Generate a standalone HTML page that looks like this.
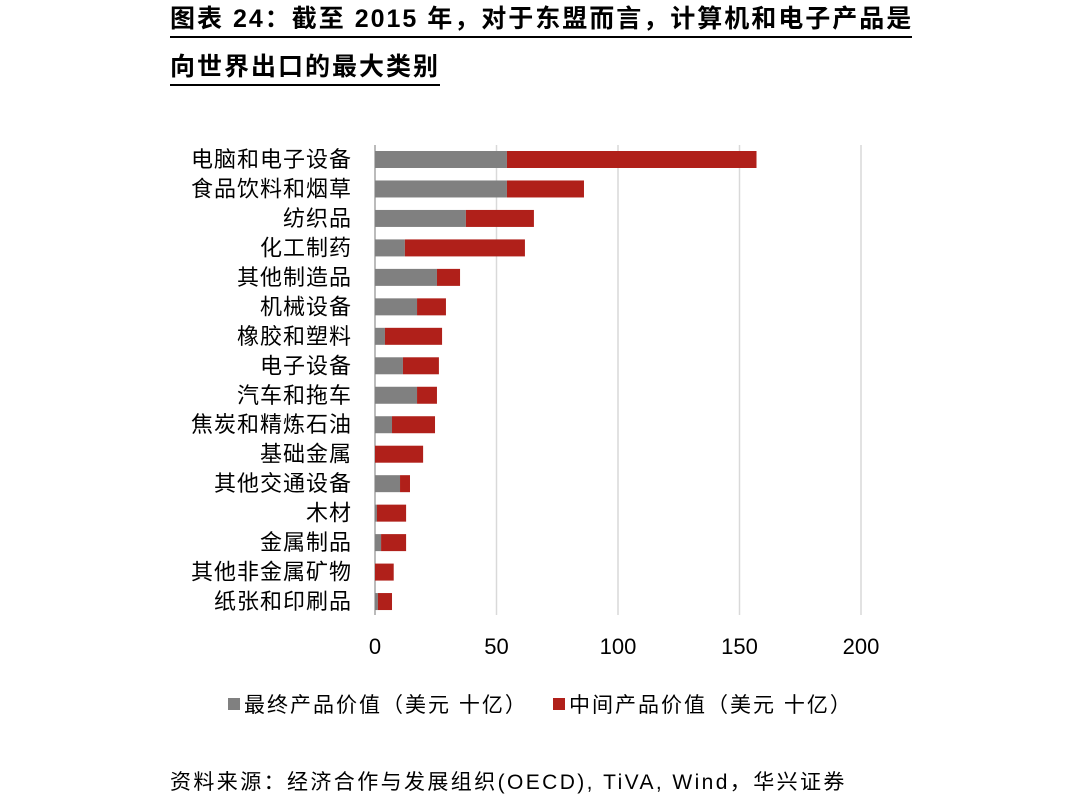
<!DOCTYPE html>
<html><head><meta charset="utf-8"><style>
body{margin:0;width:1080px;height:800px;background:#fff;font-family:"Liberation Sans","Noto Sans CJK SC",sans-serif;position:relative;overflow:hidden}
.t{position:absolute;left:170px;font-weight:bold;font-size:25px;color:#000;border-bottom:2px solid #000;line-height:34px;letter-spacing:2px}
</style></head><body>
<div class="t" style="top:2px;width:742px;white-space:nowrap">图表 24：截至 2015 年，对于东盟而言，计算机和电子产品是</div>
<div class="t" style="top:50px">向世界出口的最大类别</div>
<svg id="c" width="1080" height="800" style="position:absolute;left:0;top:0"></svg>
<div style="position:absolute;left:170px;top:766px;font-size:21px;letter-spacing:2.4px;white-space:nowrap">资料来源：经济合作与发展组织(OECD), TiVA, Wind，华兴证券</div>
<script>
const categories=["电脑和电子设备","食品饮料和烟草","纺织品","化工制药","其他制造品","机械设备","橡胶和塑料","电子设备","汽车和拖车","焦炭和精炼石油","基础金属","其他交通设备","木材","金属制品","其他非金属矿物","纸张和印刷品"];
const finalValues=[54.3,54.3,37.4,12.3,25.5,17.3,4.1,11.5,17.3,7,0,10.3,0.8,2.5,0,1.2];
const intermediateValues=[102.7,31.7,28,49.4,9.5,11.9,23.5,14.8,8.2,17.7,19.8,4.1,12,10.3,7.7,5.8];
const ticks=[0,50,100,150,200];
const svg=document.getElementById('c');const NS='http://www.w3.org/2000/svg';
const x=v=>375+v*2.43;const y=i=>159+i*29.47;
function mk(t,a,txt){const e=document.createElementNS(NS,t);for(const k in a)e.setAttribute(k,a[k]);if(txt!=null)e.textContent=txt;svg.appendChild(e);return e;}
ticks.forEach(t=>{
const g=mk('line',{x1:x(t),x2:x(t),y1:145,y2:615,stroke:t===0?'#bbb':'#d9d9d9','stroke-width':t===0?2:1.5});


const l=mk('text',{x:x(t),y:654,'text-anchor':'middle','font-size':22,fill:'#000'},t);


});
categories.forEach((c,i)=>{
const l=mk('text',{x:352,y:y(i)+8,'text-anchor':'end','font-size':22,'letter-spacing':1,fill:'#000'},c);


const a=mk('rect',{x:x(0),y:y(i)-8,width:finalValues[i]*2.43,height:17,fill:'#808080'});


const b=mk('rect',{x:x(finalValues[i]),y:y(i)-8,width:intermediateValues[i]*2.43,height:17,fill:'#b0201a'});


});
const legend=[["最终产品价值（美元  十亿）",'#808080',228],["中间产品价值（美元  十亿）",'#b0201a',553]];
legend.forEach((d,i)=>{
const r=mk('rect',{x:d[2],y:698,width:12,height:12,fill:d[1]});


const t=mk('text',{x:d[2]+16,y:712,'font-size':21,'letter-spacing':2,'xml:space':'preserve',fill:'#000'},d[0]);


});
</script>
</body></html>
